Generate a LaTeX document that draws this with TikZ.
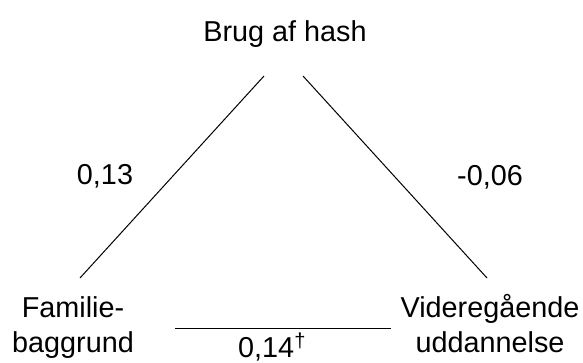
\documentclass[tikz,border=0pt]{standalone}
\usepackage{fontspec}
\setmainfont{Liberation Sans}
\tikzset{
  lbl/.style={anchor=base, inner sep=0pt, font=\fontsize{28.8pt}{35pt}\selectfont},
  link/.style={draw=black, line width=1pt}
}
\begin{document}
\begin{tikzpicture}[x=1pt,y=-1pt]
\useasboundingbox (0,0) rectangle (583,363);
\node[lbl] (hash) at (285,42) {Brug af hash};
\node[lbl] (l13) at (105,185) {0,13};
\node[lbl] (l06) at (490,186) {-0,06};
\node[lbl] (fam) at (73,317) {Familie-};
\node[lbl] (fam2) at (73,352) {baggrund};
\node[lbl] (vid) at (490,317) {Videregående};
\node[lbl] (vid2) at (490,352) {uddannelse};
\node[lbl, anchor=base west] (l14) at (238,357) {0,14\textsuperscript{\textdagger}};
\coordinate (hashL) at (264,76);
\coordinate (hashR) at (303,76);
\coordinate (famT) at (80,278);
\coordinate (vidT) at (487,278);
\coordinate (famR) at (175,328);
\coordinate (vidL) at (391,328);
\draw[link] (hashL) -- (famT);
\draw[link] (hashR) -- (vidT);
\draw[link] (famR) -- (vidL);
\end{tikzpicture}
\end{document}
